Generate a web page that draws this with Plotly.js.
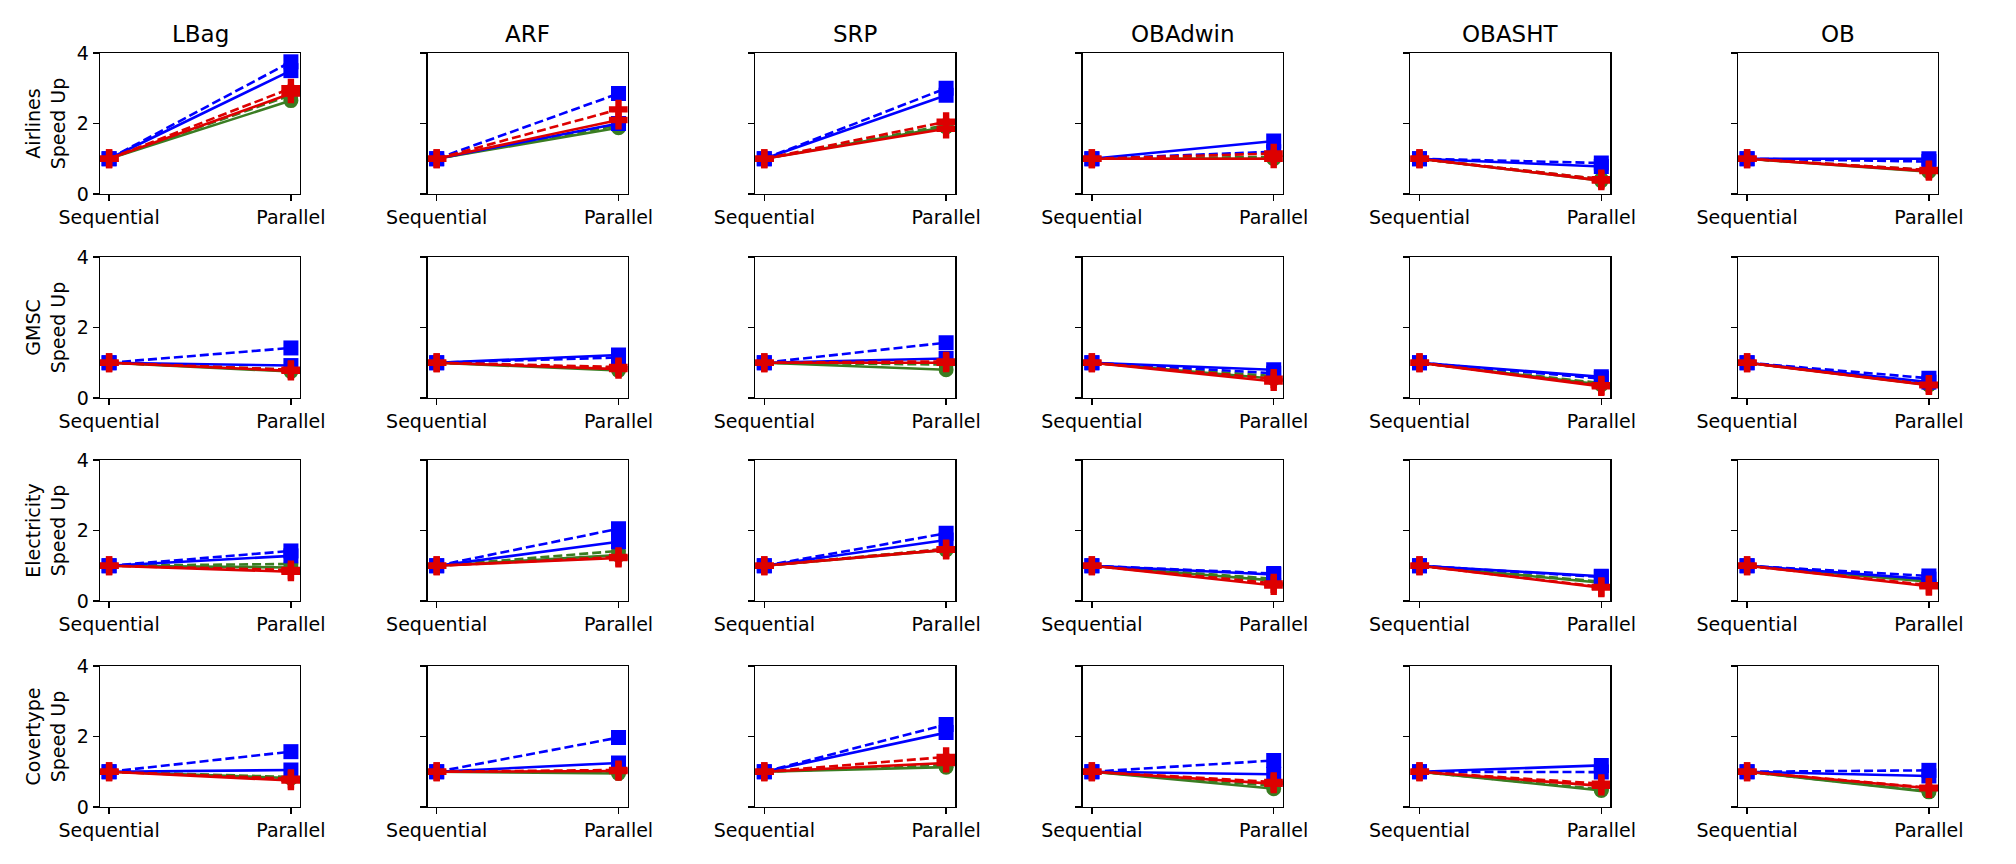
<!DOCTYPE html>
<html>
<head>
<meta charset="utf-8">
<script src="https://cdn.plot.ly/plotly-3.0.1.min.js"></script>
<style>html,body{margin:0;padding:0;background:#fff;}#chart{width:2016px;height:864px;}</style>
</head>
<body>
<div id="chart"></div>
<script>
// ---- data ----
const algorithms = ['LBag', 'ARF', 'SRP', 'OBAdwin', 'OBASHT', 'OB'];
const datasets = ['Airlines', 'GMSC', 'Electricity', 'Covertype'];
const xLabels = ['Sequential', 'Parallel'];
const sequentialValue = 1;
const yTicks = [0, 2, 4];

// Parallel speed-up; rows = datasets, columns = algorithms
const greenSolid = [
  [2.65, 1.88, 1.90, 1.00, 0.38, 0.63],
  [0.75, 0.78, 0.80, 0.55, 0.38, 0.37],
  [0.95, 1.30, 1.45, 0.58, 0.52, 0.55],
  [0.82, 0.95, 1.13, 0.52, 0.47, 0.43]
];
const greenDashed = [
  [2.80, 1.95, 1.95, 1.05, 0.42, 0.68],
  [0.80, 0.85, 0.95, 0.62, 0.42, 0.40],
  [1.05, 1.42, 1.48, 0.63, 0.55, 0.58],
  [0.85, 1.00, 1.20, 0.60, 0.50, 0.45]
];
const blueSolid = [
  [3.50, 2.00, 2.80, 1.50, 0.78, 1.00],
  [0.92, 1.22, 1.12, 0.80, 0.60, 0.45],
  [1.28, 1.68, 1.73, 0.75, 0.70, 0.62],
  [1.05, 1.25, 2.11, 0.93, 1.18, 0.88]
];
const blueDashed = [
  [3.75, 2.85, 3.00, 1.20, 0.88, 0.92],
  [1.42, 1.15, 1.57, 0.70, 0.55, 0.56],
  [1.42, 2.05, 1.92, 0.78, 0.68, 0.71],
  [1.57, 1.97, 2.34, 1.32, 0.99, 1.04]
];
const redSolid = [
  [2.85, 2.10, 1.85, 1.00, 0.38, 0.65],
  [0.77, 0.82, 1.00, 0.47, 0.33, 0.36],
  [0.83, 1.22, 1.45, 0.44, 0.38, 0.42],
  [0.75, 1.02, 1.25, 0.66, 0.60, 0.53]
];
const redDashed = [
  [3.00, 2.40, 2.05, 1.15, 0.42, 0.68],
  [0.80, 0.88, 1.04, 0.55, 0.36, 0.38],
  [0.88, 1.25, 1.47, 0.50, 0.40, 0.45],
  [0.80, 1.05, 1.42, 0.71, 0.66, 0.55]
];

// ---- styles ----
const seriesList = [
  {name: 'green solid', data: greenSolid, color: '#3a7d22', symbol: 'circle', dash: 'solid', size: 15},
  {name: 'green dashed', data: greenDashed, color: '#3a7d22', symbol: 'circle', dash: '9px,4px', size: 15},
  {name: 'blue solid', data: blueSolid, color: '#0000ff', symbol: 'square', dash: 'solid', size: 15},
  {name: 'blue dashed', data: blueDashed, color: '#0000ff', symbol: 'square', dash: '9px,4px', size: 15},
  {name: 'red solid', data: redSolid, color: '#dd0000', symbol: 'cross', dash: 'solid', size: 16},
  {name: 'red dashed', data: redDashed, color: '#dd0000', symbol: 'cross', dash: '9px,4px', size: 16}
];

const W = 2016, H = 864;
const colStep = 327.6;
const colStart = 100;
const axW = 200;
const rowTop = [53, 257, 460, 666];
const axH = 141;
const FONT = 'DejaVu Sans, sans-serif';
const TICK_SIZE = 19;

const traces = [];
const layout = {
  width: W, height: H,
  margin: {l: 0, r: 0, t: 0, b: 0},
  paper_bgcolor: '#fff', plot_bgcolor: '#fff',
  showlegend: false,
  font: {family: FONT, color: '#000', size: TICK_SIZE},
  annotations: []
};

datasets.forEach((ds, r) => {
  algorithms.forEach((alg, c) => {
    const idx = r * algorithms.length + c + 1;
    const xa = idx === 1 ? 'xaxis' : 'xaxis' + idx;
    const ya = idx === 1 ? 'yaxis' : 'yaxis' + idx;
    const xr = idx === 1 ? 'x' : 'x' + idx;
    const yr = idx === 1 ? 'y' : 'y' + idx;
    const left = colStart + c * colStep;
    seriesList.forEach(s => {
      traces.push({
        type: 'scatter', mode: 'lines+markers',
        x: xLabels, y: [sequentialValue, s.data[r][c]],
        xaxis: xr, yaxis: yr, name: s.name,
        line: {color: s.color, width: 2.6, dash: s.dash},
        marker: {color: s.color, symbol: s.symbol, size: s.size, line: {width: 0}},
        hoverinfo: 'x+y+name'
      });
    });
    layout[xa] = {
      domain: [left / W, (left + axW) / W],
      anchor: yr, type: 'category', range: [-0.05, 1.05],
      showgrid: false, zeroline: false,
      showline: true, linecolor: '#000', linewidth: 1.4, mirror: true,
      ticks: 'outside', ticklen: 6, tickwidth: 1.4, tickcolor: '#000',
      tickfont: {family: FONT, size: TICK_SIZE, color: '#000'}
    };
    layout[ya] = {
      domain: [1 - (rowTop[r] + axH) / H, 1 - rowTop[r] / H],
      anchor: xr, range: [0, 4], tickvals: yTicks,
      showticklabels: c === 0,
      showgrid: false, zeroline: false,
      showline: true, linecolor: '#000', linewidth: 1.4, mirror: true,
      ticks: 'outside', ticklen: 6, tickwidth: 1.4, tickcolor: '#000',
      tickfont: {family: FONT, size: TICK_SIZE, color: '#000'}
    };
    if (c === 0) {
      layout[ya].title = {text: ds + '<br>Speed Up', font: {family: FONT, size: TICK_SIZE, color: '#000'}, standoff: 6};
    }
    if (r === 0) {
      layout.annotations.push({
        text: alg, xref: 'paper', yref: 'paper',
        x: (left + axW / 2) / W, y: 1 - (rowTop[0] - 4) / H,
        xanchor: 'center', yanchor: 'bottom', showarrow: false,
        font: {family: FONT, size: 23, color: '#000'}
      });
    }
  });
});

Plotly.newPlot('chart', traces, layout, {displayModeBar: false, staticPlot: true});
</script>
</body>
</html>
